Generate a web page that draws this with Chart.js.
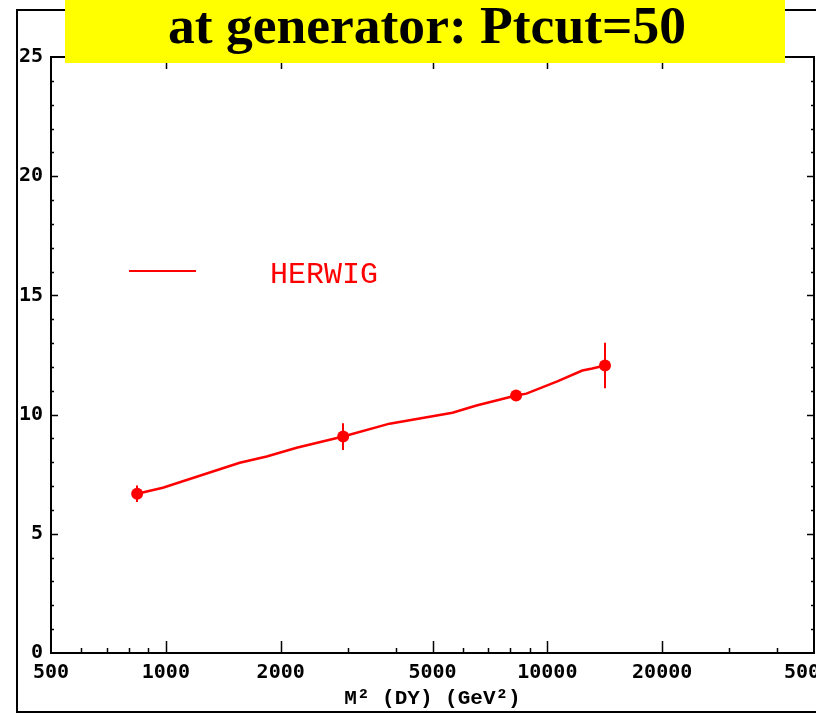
<!DOCTYPE html>
<html>
<head>
<meta charset="utf-8">
<title>HERWIG ratio vs M²</title>
<script src="https://cdn.jsdelivr.net/npm/chart.js@4.4.1/dist/chart.umd.min.js"></script>
<style>
  html, body { margin: 0; padding: 0; background: #ffffff; overflow: hidden; }
  canvas { display: block; }
</style>
</head>
<body>
<canvas id="plot" width="816" height="714"></canvas>
<script>
// HERWIG curve: M^2 (GeV^2) and the plotted ratio
const curveMass  = [841, 982, 1562, 1838, 2202, 2916, 3858, 5641, 6520, 8281, 8813, 10620, 12350, 13114, 14161];
const curveRatio = [6.68, 6.93, 7.98, 8.24, 8.61, 9.08, 9.62, 10.08, 10.38, 10.80, 10.88, 11.39, 11.85, 11.93, 12.06];

// Generated points with statistical errors
const pointMass  = [841, 2916, 8281, 14161];
const pointRatio = [6.68, 9.08, 10.80, 12.06];
const pointError = [0.35, 0.56, 0.20, 0.95];

// Axis ticks
const xLabelValues = [500, 1000, 2000, 5000, 10000, 20000, 50000];
const xMajorTicks  = [1000, 2000, 5000, 10000, 20000];
const xMinorTicks  = [600, 700, 800, 900, 3000, 4000, 6000, 7000, 8000, 9000, 30000, 40000];
const yMajorTicks  = [5, 10, 15, 20];
const yMinorTicks  = [1, 2, 3, 4, 6, 7, 8, 9, 11, 12, 13, 14, 16, 17, 18, 19, 21, 22, 23, 24];

const titleText  = 'at generator: Ptcut=50';
const xAxisTitle = 'M\u00B2 (DY) (GeV\u00B2)';
const legendText = 'HERWIG';

const RED = '#ff0000';
const tickFont = { family: '"DejaVu Sans Mono", monospace', size: 20, weight: 'bold' };

const curvePoints = curveMass.map((m, i) => ({ x: m, y: curveRatio[i] }));
const markerPoints = pointMass.map((m, i) => ({ x: m, y: pointRatio[i] }));

// Frame, inward tick marks, error bars, legend and banner title
const decorations = {
  id: 'decorations',
  beforeDatasetsDraw(chart) {
    const { ctx, scales: { x, y } } = chart;
    ctx.save();
    ctx.strokeStyle = RED;
    ctx.lineWidth = 2;
    pointMass.forEach((m, i) => {
      const px = Math.round(x.getPixelForValue(m));
      ctx.beginPath();
      ctx.moveTo(px, y.getPixelForValue(pointRatio[i] - pointError[i]));
      ctx.lineTo(px, y.getPixelForValue(pointRatio[i] + pointError[i]));
      ctx.stroke();
    });
    ctx.restore();
  },
  afterDraw(chart) {
    const { ctx, chartArea: a, scales: { x, y } } = chart;
    ctx.save();
    ctx.strokeStyle = '#000000';
    ctx.lineWidth = 2;

    // outer frame
    ctx.strokeRect(17, 10, 830, 702);
    // plot box
    ctx.strokeRect(a.left, a.top, a.right - a.left, a.bottom - a.top);

    // x ticks, bottom and top, pointing inward
    const xTick = (vals, len) => vals.forEach(v => {
      const px = Math.round(x.getPixelForValue(v)) + 0.5;
      ctx.beginPath();
      ctx.moveTo(px, a.bottom); ctx.lineTo(px, a.bottom - len);
      ctx.moveTo(px, a.top);    ctx.lineTo(px, a.top + len);
      ctx.stroke();
    });
    ctx.lineWidth = 1.5;
    xTick(xMajorTicks, 12);
    xTick(xMinorTicks, 5);

    // y ticks, left and right, pointing inward
    const yTick = (vals, len) => vals.forEach(v => {
      const py = Math.round(y.getPixelForValue(v)) + 0.5;
      ctx.beginPath();
      ctx.moveTo(a.left, py);  ctx.lineTo(a.left + len, py);
      ctx.moveTo(a.right, py); ctx.lineTo(a.right - len, py);
      ctx.stroke();
    });
    yTick(yMajorTicks, 7);
    yTick(yMinorTicks, 3);

    // legend entry
    ctx.strokeStyle = RED;
    ctx.lineWidth = 2;
    ctx.beginPath();
    ctx.moveTo(129, 271); ctx.lineTo(196, 271);
    ctx.stroke();
    ctx.fillStyle = RED;
    ctx.font = '30px "Liberation Mono", monospace';
    ctx.textBaseline = 'alphabetic';
    ctx.textAlign = 'left';
    ctx.fillText(legendText, 270, 283);

    // banner title, stretched to the banner's text width
    ctx.fillStyle = '#ffff00';
    ctx.fillRect(65, 0, 720, 63);
    ctx.fillStyle = '#000000';
    ctx.font = 'bold 52px "Liberation Serif", "Times New Roman", serif';
    ctx.textAlign = 'center';
    ctx.textBaseline = 'alphabetic';
    const w = ctx.measureText(titleText).width;
    ctx.translate(427, 43);
    ctx.scale(518 / w, 1);
    ctx.fillText(titleText, 0, 0);
    ctx.restore();
  }
};

new Chart(document.getElementById('plot'), {
  type: 'scatter',
  data: {
    datasets: [
      {
        label: 'HERWIG',
        data: curvePoints,
        showLine: true,
        borderColor: RED,
        borderWidth: 2.5,
        pointRadius: 0,
        tension: 0
      },
      {
        label: 'points',
        data: markerPoints,
        showLine: false,
        pointStyle: 'circle',
        pointRadius: 6,
        backgroundColor: RED,
        borderColor: RED,
        borderWidth: 0
      }
    ]
  },
  options: {
    responsive: false,
    animation: false,
    devicePixelRatio: 1,
    layout: { autoPadding: false, padding: { top: 57, right: 2, left: 0, bottom: 0 } },
    plugins: {
      legend: { display: false },
      tooltip: { enabled: false },
      title: { display: false }
    },
    scales: {
      x: {
        type: 'logarithmic',
        position: 'bottom',
        min: 500,
        max: 50000,
        grid: { display: false, drawTicks: false },
        border: { display: false },
        afterBuildTicks(scale) {
          scale.ticks = xLabelValues.map(v => ({ value: v, major: false }));
        },
        ticks: {
          autoSkip: false,
          maxRotation: 0,
          minRotation: 0,
          padding: 8,
          color: '#000000',
          font: tickFont,
          callback: (v) => String(v)
        },
        title: {
          display: true,
          text: xAxisTitle,
          color: '#000000',
          font: { family: '"Liberation Mono", monospace', size: 21, weight: 'bold' },
          padding: { top: 0, bottom: 3 }
        },
        afterFit(scale) {
          scale.height = 61;
          scale.paddingLeft = 0;
          scale.paddingRight = 0;
        }
      },
      y: {
        type: 'linear',
        min: 0,
        max: 25,
        grid: { display: false, drawTicks: false },
        border: { display: false },
        ticks: {
          stepSize: 5,
          padding: 8,
          color: '#000000',
          font: tickFont
        },
        afterFit(scale) {
          scale.width = 51;
          scale.paddingTop = 0;
          scale.paddingBottom = 0;
        }
      }
    }
  },
  plugins: [decorations]
});
</script>
</body>
</html>
